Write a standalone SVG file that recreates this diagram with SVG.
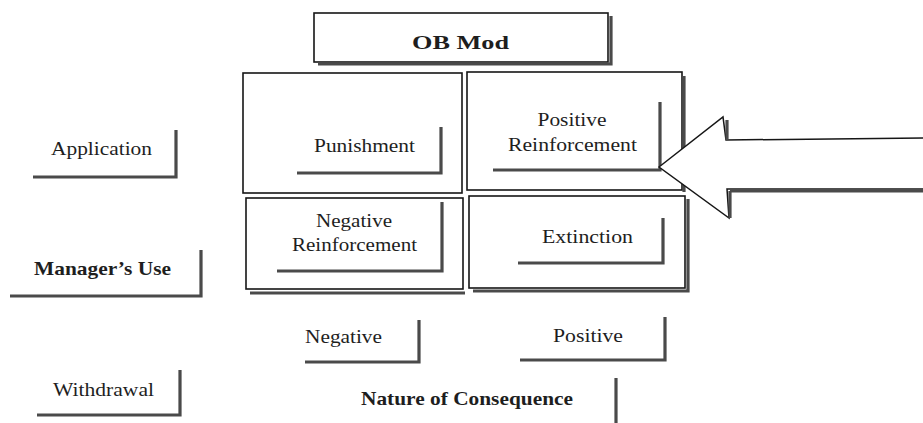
<svg xmlns="http://www.w3.org/2000/svg" width="923" height="423" viewBox="0 0 923 423">
<style>
text{font-family:"Liberation Serif","Times New Roman",serif;font-size:19px;fill:#1e1e1e;text-anchor:middle;lengthAdjust:spacingAndGlyphs}
.b{font-weight:bold}
.box{fill:#fff;stroke:#161616;stroke-width:1.6}
.sh{fill:none;stroke:#4a4a4a;stroke-width:3.2;stroke-linejoin:miter}
.arrow{fill:#fff;stroke:#161616;stroke-width:1.5;stroke-linejoin:miter}
</style>
<rect width="923" height="423" fill="#fff"/>

<g id="ob-mod">
<rect class="box" x="314" y="13" width="294" height="49"/>
<path class="sh" d="M318,64 H611 V16"/>
<text class="b" x="460.5" y="49" font-size="22" textLength="97" lengthAdjust="spacingAndGlyphs">OB Mod</text>
</g>

<g id="quadrant-punishment">
<rect class="box" x="243" y="73" width="219" height="120"/>
<path class="sh" d="M297,173 H441 V127"/>
<text x="364.5" y="152" textLength="101" lengthAdjust="spacingAndGlyphs">Punishment</text>
</g>

<g id="quadrant-positive-reinforcement">
<rect class="box" x="467" y="72" width="215" height="118"/>
<path class="sh" d="M684,76 V192"/>
<path class="sh" d="M493,170 H660 V102"/>
<text x="572" y="126" textLength="69" lengthAdjust="spacingAndGlyphs">Positive</text>
<text x="572.5" y="151" textLength="129" lengthAdjust="spacingAndGlyphs">Reinforcement</text>
</g>

<g id="quadrant-negative-reinforcement">
<rect class="box" x="246" y="198" width="217" height="91"/>
<path class="sh" d="M250,293 H465"/>
<path class="sh" d="M277,271 H442 V202"/>
<text x="354" y="227" textLength="76" lengthAdjust="spacingAndGlyphs">Negative</text>
<text x="354.5" y="251" textLength="125" lengthAdjust="spacingAndGlyphs">Reinforcement</text>
</g>

<g id="quadrant-extinction">
<rect class="box" x="469" y="196" width="216" height="92"/>
<path class="sh" d="M473,291 H688 V199"/>
<path class="sh" d="M518,263 H663 V218"/>
<text x="587.5" y="243" textLength="91" lengthAdjust="spacingAndGlyphs">Extinction</text>
</g>

<g id="label-application">
<path class="sh" d="M33,177 H176 V130"/>
<text x="101.5" y="155" textLength="101" lengthAdjust="spacingAndGlyphs">Application</text>
</g>

<g id="label-managers-use">
<path class="sh" d="M10,296 H201 V250"/>
<text class="b" x="102.5" y="275" textLength="137" lengthAdjust="spacingAndGlyphs">Manager’s Use</text>
</g>

<g id="label-withdrawal">
<path class="sh" d="M37,415 H180 V370"/>
<text x="103.5" y="396" textLength="101" lengthAdjust="spacingAndGlyphs">Withdrawal</text>
</g>

<g id="label-negative">
<path class="sh" d="M305,362 H419 V320"/>
<text x="343.5" y="343" textLength="77" lengthAdjust="spacingAndGlyphs">Negative</text>
</g>

<g id="label-positive">
<path class="sh" d="M520,360 H665 V317"/>
<text x="588" y="342" textLength="70" lengthAdjust="spacingAndGlyphs">Positive</text>
</g>

<g id="label-nature-of-consequence">
<path class="sh" d="M616,378 V423"/>
<text class="b" x="467" y="405" textLength="212" lengthAdjust="spacingAndGlyphs">Nature of Consequence</text>
</g>

<g id="connectors">
<polygon class="arrow" points="659,167 723,117 726,140 925,138 925,189 727,189 729,218"/>
<path class="sh" d="M727,120 V140"/>
<path class="sh" d="M730,191 H923"/>
<path class="sh" d="M730,191 V218"/>
</g>
</svg>
